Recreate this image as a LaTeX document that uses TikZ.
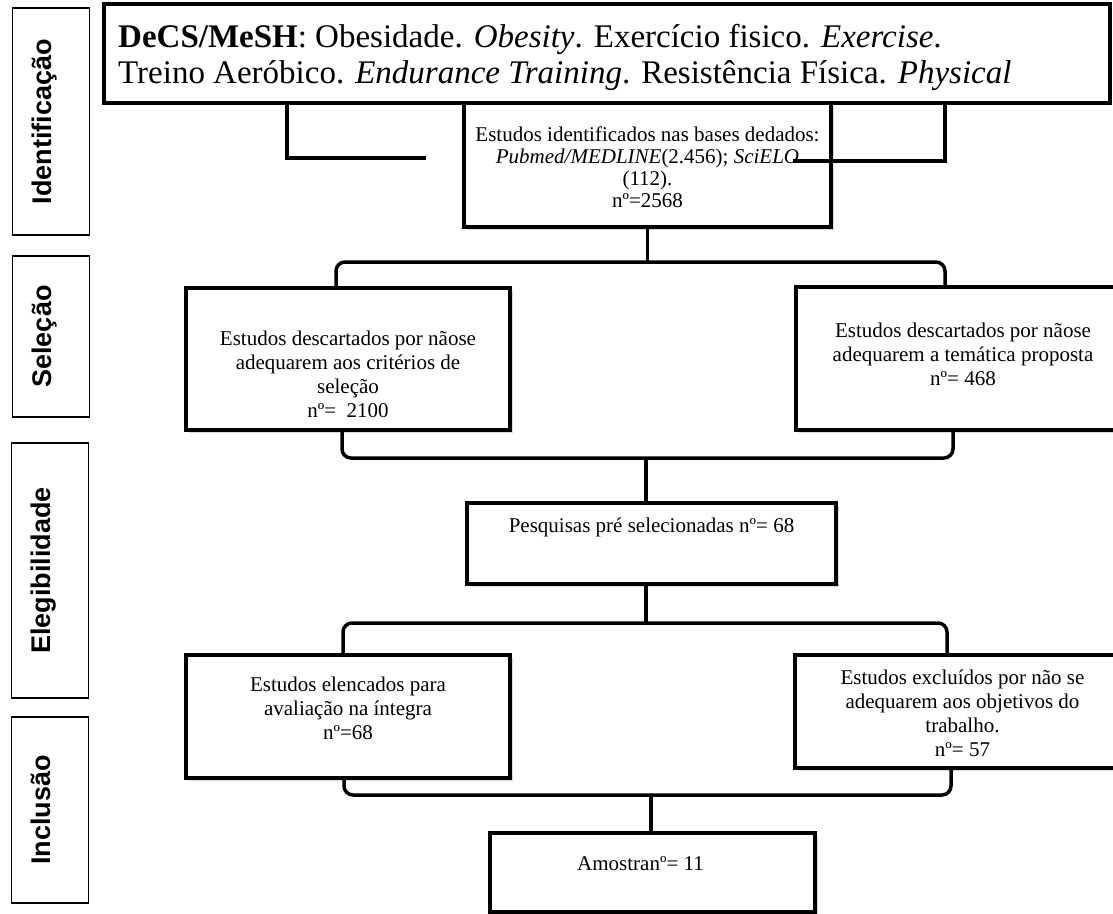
\documentclass[tikz,border=0pt]{standalone}
\usepackage{fontspec}
\setmainfont{Liberation Serif}
\setsansfont{Liberation Sans}
\usetikzlibrary{shadows}

\begin{document}
\begin{tikzpicture}[x=1pt,y=-1pt]
\tikzstyle{mystage} = [draw, line width=1.8pt, rotate=90, minimum height=77pt, inner sep=0pt, text height=0pt, text depth=0pt, font=\fontsize{27}{30}\selectfont\sffamily\bfseries]
\tikzstyle{mybox} = [draw, fill=white, line width=3.5pt, inner sep=0pt, drop shadow={shadow xshift=2.5pt, shadow yshift=-3pt, opacity=0.3}]
\tikzstyle{mytext} = [align=center, inner sep=0pt, font=\fontsize{21}{24}\selectfont]
\tikzset{myline/.style={line width=3.5pt}, mybrace/.style={myline, rounded corners=9pt}}

\useasboundingbox (0,0) rectangle (1113,913);
\clip (0,0) rectangle (1113,913);

% stages
\node[mystage, minimum width=227pt] (ident) at (51,121.5) {Identificação};
\node[mystage, minimum width=161pt] (selec) at (51,336.5) {Seleção};
\node[mystage, minimum width=255pt] (elegib) at (50,570.5) {Elegibilidade};
\node[mystage, minimum width=186pt] (inclus) at (50,810) {Inclusão};

% descriptors
\node[draw, line width=4pt, minimum width=1006pt, minimum height=99pt] (top) at (607,53.5) {};
\node[mytext, align=left, anchor=west, font=\fontsize{33}{36}\selectfont] (toptxt) at (118,57) {\textbf{DeCS/MeSH}: Obesidade. \textit{Obesity}. Exercício fisico. \textit{Exercise}.\\ Treino Aeróbico. \textit{Endurance Training}. Resistência Física. \textit{Physical}};

% boxes
\node[mybox, minimum width=367pt, minimum height=124pt] (found) at (647.5,165) {};
\node[mybox, minimum width=324pt, minimum height=142pt] (excl1) at (348,359) {};
\node[mybox, minimum width=334pt, minimum height=143pt] (excl2) at (963,358.5) {};
\node[mybox, minimum width=369pt, minimum height=81pt] (pre) at (651.5,543.5) {};
\node[mybox, minimum width=324pt, minimum height=123pt] (elenc) at (348,716.5) {};
\node[mybox, minimum width=335pt, minimum height=113pt] (excl3) at (962.5,711.5) {};
\node[mybox, minimum width=325pt, minimum height=79pt] (sample) at (652.5,872.5) {};

\node[mytext, font=\fontsize{21}{22}\selectfont] (foundtxt) at ([yshift=-2pt]found.center) {Estudos identificados nas bases dedados:\\ \textit{Pubmed/MEDLINE}(2.456); \textit{SciELO}\\ (112).\\ nº=2568};
\node[mytext] (excl1txt) at ([yshift=-15pt]excl1.center) {Estudos descartados por nãose\\ adequarem aos critérios de\\ seleção\\ nº=\ \ 2100};
\node[mytext] (excl2txt) at ([yshift=4pt]excl2.center) {Estudos descartados por nãose\\ adequarem a temática proposta\\ nº= 468};
\node[mytext] (pretxt) at ([yshift=16pt]pre.center) {Pesquisas pré selecionadas nº= 68};
\node[mytext] (elenctxt) at ([yshift=8pt]elenc.center) {Estudos elencados para\\ avaliação na íntegra\\ nº=68};
\node[mytext] (excl3txt) at ([yshift=-1.5pt]excl3.center) {Estudos excluídos por não se\\ adequarem aos objetivos do\\ trabalho.\\ nº= 57};
\node[mytext] (sampletxt) at ([xshift=-12pt,yshift=9pt]sample.center) {Amostranº= 11};

% connectors
\coordinate (lbend) at (287,158);
\coordinate (lend) at (426,158);
\coordinate (rbend) at (945,161);
\coordinate (rend) at (793,161);
\draw[myline] (top.south -| lbend) |- (lend);
\draw[myline] (top.south -| rbend) |- (rend);

\coordinate (b1l) at (336,262);
\coordinate (b1r) at (945,262);
\draw[myline] (found.south) -- (found.south |- b1l);
\draw[mybrace] (excl1.north -| b1l) -- (b1l) -- (b1r) -- (excl2.north -| b1r);

\coordinate (b2l) at (342,458);
\coordinate (b2r) at (953,458);
\coordinate (spine) at (646,458);
\draw[mybrace] (excl1.south -| b2l) -- (b2l) -- (b2r) -- (excl2.south -| b2r);
\draw[myline] (spine) -- (pre.north -| spine);

\coordinate (b3l) at (343,623);
\coordinate (b3r) at (947,623);
\draw[myline] (pre.south -| spine) -- (spine |- b3l);
\draw[mybrace] (elenc.north -| b3l) -- (b3l) -- (b3r) -- (excl3.north -| b3r);

\coordinate (b4l) at (344,795);
\coordinate (b4r) at (951,795);
\coordinate (stem) at (651,795);
\draw[mybrace] (elenc.south -| b4l) -- (b4l) -- (b4r) -- (excl3.south -| b4r);
\draw[myline] (stem) -- (sample.north -| stem);
\end{tikzpicture}
\end{document}
